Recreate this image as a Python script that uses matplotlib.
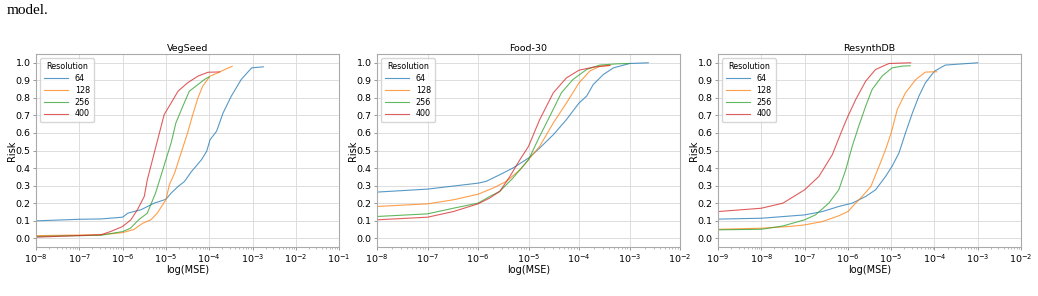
import numpy as np
import matplotlib
matplotlib.use("Agg")
import matplotlib.pyplot as plt
from matplotlib.ticker import LogLocator, NullFormatter

# data: log10(MSE) and risk
resolutions = ["64", "128", "256", "400"]
colors = ["tab:blue", "tab:orange", "tab:green", "tab:red"]

veg_x = {
    "64": [-8, -7, -6.5, -6, -5.88, -5.58, -5.27, -5, -4.88, -4.72, -4.57, -4.41, -4.18, -4.06,
           -3.98, -3.83, -3.68, -3.49, -3.26, -3.02, -2.75],
    "128": [-8, -6.5, -6, -5.74, -5.54, -5.35, -5.2, -5, -4.92, -4.8, -4.65, -4.5, -4.38, -4.26,
            -4.15, -3.98, -3.8, -3.64, -3.47],
    "256": [-8, -6.5, -6, -5.82, -5.63, -5.43, -5.24, -5.12, -5, -4.88, -4.77, -4.61, -4.46,
            -4.26, -4.11, -4.0],
    "400": [-8, -6.5, -6.28, -6, -5.81, -5.66, -5.5, -5.43, -5.27, -5.15, -5.04, -4.88, -4.72,
            -4.5, -4.26, -4.03, -3.76],
}
veg_y = {
    "64": [0.099, 0.108, 0.11, 0.12, 0.143, 0.162, 0.2, 0.222, 0.257, 0.295, 0.324, 0.38, 0.447,
           0.495, 0.562, 0.61, 0.714, 0.81, 0.905, 0.971, 0.977],
    "128": [0.015, 0.02, 0.032, 0.05, 0.085, 0.105, 0.143, 0.22, 0.305, 0.371, 0.486, 0.6, 0.705,
            0.8, 0.867, 0.924, 0.943, 0.962, 0.98],
    "256": [0.01, 0.017, 0.038, 0.057, 0.105, 0.143, 0.257, 0.352, 0.448, 0.543, 0.657, 0.752,
            0.838, 0.876, 0.905, 0.92],
    "400": [0.006, 0.02, 0.038, 0.067, 0.105, 0.162, 0.238, 0.333, 0.486, 0.6, 0.705, 0.771,
            0.838, 0.886, 0.924, 0.946, 0.948],
}

food_x = {
    "64": [-8, -7, -6, -5.84, -5.57, -5.31, -5, -4.78, -4.51, -4.25, -4, -3.85, -3.72, -3.52,
           -3.32, -3, -2.63],
    "128": [-8, -7, -6.49, -6, -5.7, -5.44, -5.17, -5, -4.78, -4.51, -4.25, -4, -3.79, -3.59,
            -3.39],
    "256": [-8, -7, -6.49, -6, -5.77, -5.57, -5.31, -5, -4.78, -4.58, -4.35, -4.12, -3.85,
            -3.59, -3.26, -3],
    "400": [-8, -7, -6.49, -6, -5.77, -5.57, -5.37, -5.17, -5, -4.78, -4.51, -4.25, -4, -3.72,
            -3.39],
}
food_y = {
    "64": [0.263, 0.28, 0.314, 0.324, 0.362, 0.4, 0.457, 0.514, 0.59, 0.676, 0.771, 0.81, 0.876,
           0.933, 0.971, 0.996, 1.0],
    "128": [0.181, 0.196, 0.219, 0.251, 0.286, 0.324, 0.39, 0.448, 0.524, 0.657, 0.771, 0.886,
            0.952, 0.981, 0.985],
    "256": [0.124, 0.139, 0.171, 0.2, 0.238, 0.267, 0.343, 0.448, 0.581, 0.695, 0.829, 0.905,
            0.962, 0.987, 0.994, 0.996],
    "400": [0.105, 0.12, 0.152, 0.196, 0.229, 0.267, 0.352, 0.448, 0.524, 0.676, 0.829, 0.914,
            0.958, 0.975, 0.985],
}

resynth_x = {
    "64": [-9, -8, -7, -6.59, -6.21, -5.9, -5.59, -5.36, -5.13, -4.98, -4.82, -4.67, -4.51,
           -4.36, -4.21, -4, -3.75, -3],
    "128": [-9, -8, -7.35, -7, -6.59, -6.21, -6, -5.82, -5.67, -5.47, -5.28, -5.13, -5, -4.86,
            -4.67, -4.43, -4.21, -3.95],
    "256": [-9, -8, -7.5, -7, -6.75, -6.44, -6.21, -6.05, -5.9, -5.75, -5.59, -5.44, -5.21,
            -4.98, -4.75, -4.56],
    "400": [-9, -8, -7.5, -7, -6.67, -6.36, -6.13, -6, -5.82, -5.59, -5.36, -5.05, -4.55],
}
resynth_y = {
    "64": [0.109, 0.114, 0.133, 0.152, 0.181, 0.2, 0.238, 0.276, 0.352, 0.41, 0.486, 0.6, 0.714,
           0.81, 0.886, 0.952, 0.987, 1.0],
    "128": [0.051, 0.057, 0.067, 0.076, 0.095, 0.128, 0.152, 0.2, 0.238, 0.295, 0.41, 0.505,
            0.6, 0.733, 0.829, 0.905, 0.947, 0.949],
    "256": [0.048, 0.051, 0.07, 0.105, 0.133, 0.2, 0.276, 0.39, 0.524, 0.638, 0.752, 0.848,
            0.924, 0.971, 0.981, 0.983],
    "400": [0.152, 0.171, 0.2, 0.276, 0.352, 0.476, 0.619, 0.695, 0.79, 0.895, 0.962, 0.996, 1.0],
}

panels = [
    ("VegSeed", veg_x, veg_y, (1e-8, 1e-1)),
    ("Food-30", food_x, food_y, (1e-8, 1e-2)),
    ("ResynthDB", resynth_x, resynth_y, (1e-9, 1e-2)),
]
lefts = [0.0347, 0.3632, 0.6917]

plt.rcParams['font.family'] = 'DejaVu Sans'
fig = plt.figure(figsize=(10.38, 2.96), dpi=100)

fig.text(0.0065, 0.965, "model.", family="Liberation Serif", fontsize=11, va="center", ha="left")

for (title, xs, ys, xlim), left in zip(panels, lefts):
    ax = fig.add_axes([left, 0.1655, 0.292, 0.652])
    for res, c in zip(resolutions, colors):
        x = 10.0 ** np.array(xs[res])
        ax.plot(x, ys[res], color=c, lw=0.8, alpha=0.75, label=res)
    ax.set_xscale("log")
    ax.set_xlim(*xlim)
    ax.set_ylim(-0.05, 1.05)
    ax.set_yticks(np.arange(0, 1.01, 0.1))
    ax.set_yticklabels([f"{v:.1f}" for v in np.arange(0, 1.01, 0.1)])
    ax.xaxis.set_major_locator(LogLocator(base=10, numticks=20))
    ax.xaxis.set_minor_locator(LogLocator(base=10, subs=np.arange(2, 10), numticks=20))
    ax.xaxis.set_minor_formatter(NullFormatter())
    ax.grid(True, which="major", color="#dddddd", lw=0.7)
    ax.set_axisbelow(True)
    for s in ax.spines.values():
        s.set_color("#aaaaaa")
        s.set_linewidth(0.8)
    ax.tick_params(axis="both", which="major", labelsize=6.8, length=2.5, width=0.6,
                   color="#888888", pad=1.5)
    ax.tick_params(axis="x", which="minor", length=1.5, width=0.4, color="#888888")
    ax.set_title(title, fontsize=6.8, pad=2)
    ax.set_xlabel("log(MSE)", fontsize=7, labelpad=0)
    ax.set_ylabel("Risk", fontsize=7, labelpad=-1)
    ax.legend(title="Resolution", loc="upper left", fontsize=5.8, title_fontsize=5.8,
              handlelength=3.0, labelspacing=0.35, borderpad=0.5, framealpha=0.8)

fig.savefig("out.png", dpi=100)
